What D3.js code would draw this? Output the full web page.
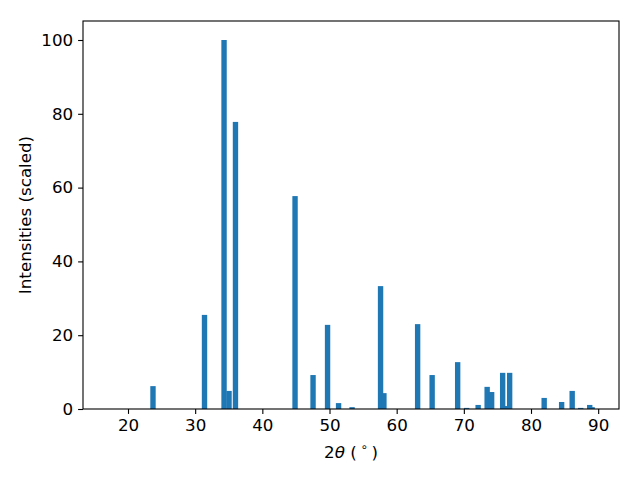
<!DOCTYPE html>
<html>
<head>
<meta charset="utf-8">
<script src="https://cdn.jsdelivr.net/npm/d3@7"></script>
<style>
  body { margin: 0; background: #fff; }
  text { font-family: "DejaVu Sans", sans-serif; }
</style>
</head>
<body>
<div id="chart"></div>
<script>
// peak positions (2theta, degrees) and scaled intensities
const positions = [
  23.72, 31.39, 34.30, 35.04, 36.00, 44.87, 47.55, 49.71, 51.35, 53.36,
  57.60, 58.10, 63.12, 65.28, 69.08, 70.42, 72.13, 73.47, 74.14, 75.78,
  76.30, 76.82, 81.96, 84.56, 86.13, 87.40, 88.74, 89.10
];
const intensities = [
  6.2, 25.5, 100, 4.9, 77.8, 57.7, 9.2, 22.8, 1.6, 0.5,
  33.3, 4.3, 23.0, 9.2, 12.7, 0.3, 1.1, 6.0, 4.6, 9.8,
  0.8, 9.8, 3.0, 1.9, 4.9, 0.3, 1.1, 0.5
];
const xTicks = [20, 30, 40, 50, 60, 70, 80, 90];
const yTicks = [0, 20, 40, 60, 80, 100];
const barWidth = 0.8;

const W = 640, H = 480;
const margin = { top: 21, right: 21, bottom: 71, left: 83 };
const width = W - margin.left - margin.right;
const height = H - margin.top - margin.bottom;

const data = positions.map((p, i) => ({ pos: p, val: intensities[i] }));

const svg = d3.select("#chart").append("svg")
  .attr("width", W)
  .attr("height", H);

const g = svg.append("g")
  .attr("transform", `translate(${margin.left},${margin.top})`);

const x = d3.scaleLinear().domain([13.3, 93.1]).range([0, width]);
const y = d3.scaleLinear().domain([0, 105.15]).range([height, 0]);

// bars
g.selectAll(".bar")
  .data(data)
  .enter()
  .append("rect")
  .attr("class", "bar")
  .attr("x", d => x(d.pos - barWidth / 2))
  .attr("width", d => x(d.pos + barWidth / 2) - x(d.pos - barWidth / 2))
  .attr("y", d => y(d.val))
  .attr("height", d => y(0) - y(d.val))
  .attr("fill", "#1f77b4");

// axes
const xAxis = g.append("g")
  .attr("transform", `translate(0,${height})`)
  .call(d3.axisBottom(x).tickValues(xTicks).tickSize(4.9).tickPadding(4.9).tickFormat(d3.format("d")));

const yAxis = g.append("g")
  .call(d3.axisLeft(y).tickValues(yTicks).tickSize(4.9).tickPadding(4.9).tickFormat(d3.format("d")));

[xAxis, yAxis].forEach(a => {
  a.select(".domain").remove();
  a.selectAll(".tick line").attr("stroke", "#000").attr("stroke-width", 1.1);
  a.selectAll(".tick text")
    .attr("fill", "#000")
    .style("font-size", "16.7px")
    .style("font-family", "DejaVu Sans, sans-serif");
});

// frame
g.append("rect")
  .attr("x", 0).attr("y", 0)
  .attr("width", width).attr("height", height)
  .attr("fill", "none")
  .attr("stroke", "#000")
  .attr("stroke-width", 1.1);

// x label
const xl = svg.append("text")
  .attr("x", margin.left + width / 2)
  .attr("y", 458)
  .attr("text-anchor", "middle")
  .style("font-size", "16.7px");
xl.append("tspan").text("2");
xl.append("tspan").style("font-style", "italic").text("θ");
xl.append("tspan").text(" (");
xl.append("tspan").attr("dy", -7).style("font-size", "11.7px").text(" ∘ ");
xl.append("tspan").attr("dy", 7).text(")");

// y label
svg.append("text")
  .attr("transform", `translate(31,${margin.top + height / 2}) rotate(-90)`)
  .attr("text-anchor", "middle")
  .style("font-size", "16.7px")
  .text("Intensities (scaled)");
</script>
</body>
</html>
